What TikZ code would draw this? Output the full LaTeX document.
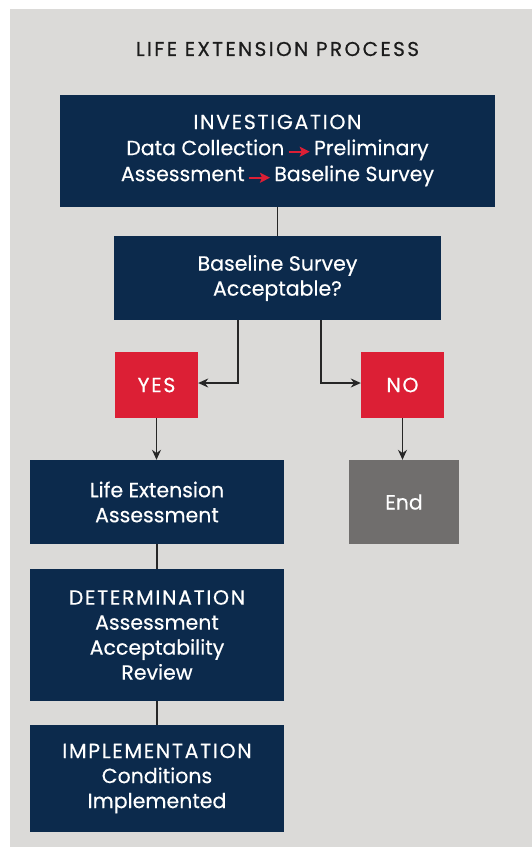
\documentclass[tikz,border=0pt]{standalone}
\usepackage{fontspec}
\setmainfont{Poppins}[FakeBold=0.4]
\newfontfamily\capsfont{Poppins}[FakeBold=0.4,LetterSpace=8]
\newfontfamily\titlefont{Poppins}[FakeBold=0.6,LetterSpace=12]
\usetikzlibrary{arrows.meta}
\definecolor{navy}{HTML}{0C2A4C}
\definecolor{redbox}{HTML}{DC1F35}
\definecolor{bggray}{HTML}{DBDAD8}
\definecolor{endgray}{HTML}{706E6D}
\definecolor{titlec}{HTML}{1C1C1C}
\newcommand{\redarr}{\,\tikz[baseline=-0.3ex]\draw[redbox,line width=1.8pt,-{Stealth[length=10pt,width=10pt,inset=2pt]}] (0,0) -- (21pt,0);\,}
\newcommand{\caps}[1]{{\capsfont #1}}
\begin{document}
\begin{tikzpicture}[x=1pt,y=-1pt,
  txt/.style={text=white,align=center,inner sep=0pt,font=\fontsize{20.5}{25}\selectfont},
  box/.style={txt,fill=navy},
  ansbox/.style={txt,fill=redbox},
  endbox/.style={txt,fill=endgray},
  conn/.style={draw=black!85,line width=1.2pt},
  arr/.style={conn,-{Stealth[length=10pt,width=9pt]}}]
\useasboundingbox (0,0) rectangle (532,847);
\fill[bggray] (10,9) rectangle (532,847);
\node[text=titlec,font=\fontsize{20}{24}\titlefont] (title) at (277.5,49) {LIFE EXTENSION PROCESS};
\node[box,font=\fontsize{20.5}{26}\selectfont,minimum width=435pt,minimum height=112pt] (inv) at (277.5,150.5)
  {\caps{INVESTIGATION}\\Data Collection\redarr Preliminary\\Assessment\redarr Baseline Survey};
\node[box,minimum width=327pt,minimum height=84pt] (base) at (277.5,278)
  {Baseline Survey\\Acceptable?};
\node[ansbox,minimum width=83pt,minimum height=66pt] (yes) at (156.5,385) {\caps{YES}};
\node[ansbox,minimum width=83pt,minimum height=66pt] (no) at (402.5,385) {\caps{NO}};
\node[box,minimum width=254pt,minimum height=84pt] (life) at (157,502)
  {Life Extension\\Assessment};
\node[endbox,minimum width=110pt,minimum height=84pt] (end) at (404,502) {End};
\node[box,minimum width=254pt,minimum height=132pt] (det) at (157,635)
  {\caps{DETERMINATION}\\Assessment\\Acceptability\\Review};
\node[box,minimum width=254pt,minimum height=107pt] (impl) at (157,778.5)
  {\caps{IMPLEMENTATION}\\Conditions\\Implemented};
\draw[conn] (inv.south) -- (base.north);
\draw[arr] ([xshift=-39.5pt]base.south) |- ([yshift=2pt]yes.east);
\draw[arr] ([xshift=43.5pt]base.south) |- ([yshift=2pt]no.west);
\draw[arr] (yes.south) -- (yes.south |- life.north);
\draw[arr] (no.south) -- (no.south |- end.north);
\draw[conn] (life.south) -- (det.north);
\draw[conn] (det.south) -- (impl.north);
\end{tikzpicture}
\end{document}
